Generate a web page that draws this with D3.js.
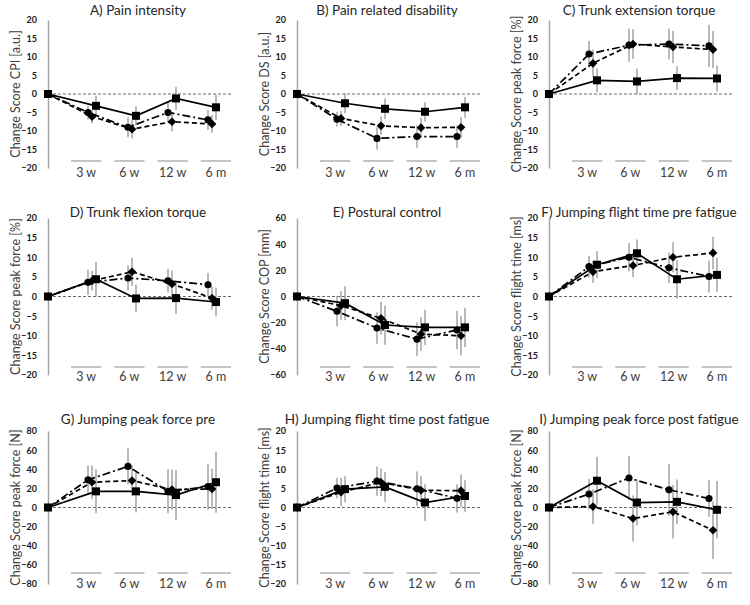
<!DOCTYPE html>
<html>
<head>
<meta charset="utf-8">
<script src="https://cdn.jsdelivr.net/npm/d3@7"></script>
<style>
  body { margin: 0; background: #fff; }
  text { font-family: Lato, "Open Sans", sans-serif; }
</style>
</head>
<body>
<div id="chart-area"></div>
<script>
const SVG_WIDTH = 750;
const SVG_HEIGHT = 605;

// time points: baseline + 4 follow-ups
const timepoints = ["Baseline", "3 w", "6 w", "12 w", "6 m"];
const groupLabels = ["3 w", "6 w", "12 w", "6 m"];

const panelTitles = [
  "A) Pain intensity", "B) Pain related disability", "C)  Trunk extension torque",
  "D) Trunk flexion torque", "E) Postural control", "F) Jumping flight time pre fatigue",
  "G) Jumping peak force pre", "H) Jumping flight time post fatigue", "I) Jumping peak force post fatigue"
];
const yLabels = [
  "Change Score CPI [a.u.]", "Change Score DS [a.u.]", "Change Score peak force  [%]",
  "Change Score peak force  [%]", "Change Score COP [mm]", "Change Score flight time [ms]",
  "Change Score peak force  [N]", "Change Score flight time [ms]", "Change Score peak force [N]"
];
const yMax = [20, 20, 20, 20, 60, 20, 80, 20, 80];
const yStep = [5, 5, 5, 5, 20, 5, 20, 5, 20];

// square marker, solid line
const squareMean = [
  [0, -3.2, -5.9, -1.2, -3.6],
  [0, -2.5, -4.0, -4.8, -3.6],
  [0, 3.7, 3.4, 4.3, 4.2],
  [0, 4.4, -0.5, -0.4, -1.4],
  [0, -5.1, -21.8, -23.6, -23.6],
  [0, 8.1, 11.0, 4.4, 5.5],
  [0, 16.9, 16.9, 13.0, 26.4],
  [0, 4.8, 5.4, 1.3, 3.0],
  [0, 28, 5.2, 5.9, -2.4]
];
const squareErr = [
  [0, 2.7, 2.6, 3.1, 3.4],
  [0, 2.7, 2.8, 2.6, 2.8],
  [0, 3.2, 3.5, 3.2, 3.5],
  [0, 4.4, 3.5, 4.0, 3.7],
  [0, 13, 15, 13.5, 15],
  [0, 3.4, 3.5, 4.9, 4.3],
  [0, 23, 22, 26, 32],
  [0, 3.4, 3.9, 4.8, 4.1],
  [0, 25, 24, 23.5, 30]
];
// diamond marker, dashed line
const diamondMean = [
  [0, -6.1, -9.5, -7.5, -8.1],
  [0, -6.6, -8.6, -9.1, -9.0],
  [0, 8.3, 13.5, 12.7, 12.0],
  [0, 4.0, 6.3, 3.2, -0.4],
  [0, -7.0, -16.7, -28.7, -30.0],
  [0, 6.3, 7.9, 10.0, 11.1],
  [0, 26.4, 28.2, 18.7, 19.4],
  [0, 4.0, 6.6, 4.5, 4.4],
  [0, 1, -11.5, -4.5, -23.8]
];
const diamondErr = [
  [0, 1.8, 2.5, 2.6, 2.4],
  [0, 2.0, 2.5, 2.7, 2.8],
  [0, 3.7, 4.0, 4.4, 5.0],
  [0, 2.5, 3.6, 3.4, 3.0],
  [0, 11, 12.5, 12.8, 15],
  [0, 2.8, 3.0, 3.8, 4.1],
  [0, 17.6, 16, 21, 21],
  [0, 3.7, 3.6, 3.7, 4.2],
  [0, 18, 24, 28, 30]
];
// circle marker, dash-dot line
const circleMean = [
  [0, -5.0, -9.0, -5.0, -7.0],
  [0, -6.8, -12.0, -11.5, -11.5],
  [0, 10.8, 13.2, 13.5, 13.0],
  [0, 3.6, 4.7, 4.0, 3.0],
  [0, -11.3, -24.1, -32.6, -25.6],
  [0, 7.6, 10.0, 7.3, 5.1],
  [0, 28.9, 43, 16.9, 21.8],
  [0, 5.1, 6.9, 4.9, 2.4],
  [0, 14, 30.8, 18.5, 9.4]
];
const circleErr = [
  [0, 1.8, 2.7, 2.7, 2.7],
  [0, 2.0, 3.0, 3.0, 3.0],
  [0, 3.5, 4.5, 4.2, 5.7],
  [0, 3.2, 3.2, 3.0, 3.0],
  [0, 11.5, 12, 12.8, 14.7],
  [0, 2.7, 3.6, 3.9, 4.1],
  [0, 15, 19, 23, 24],
  [0, 2.7, 3.8, 4.5, 3.7],
  [0, 16, 23, 27, 19]
];

const colAxisX = [48, 297, 549];
const rowsLayout = [
  { top: 20, bottom: 168, lineY: 161, labelY: 177, titleY: 15 },
  { top: 218, bottom: 375, lineY: 367, labelY: 381, titleY: 217 },
  { top: 431, bottom: 584, lineY: 573, labelY: 588, titleY: 424 }
];
const PLOT_W = 184;

const svg = d3.select("#chart-area").append("svg").attr("width", SVG_WIDTH).attr("height", SVG_HEIGHT);

const seriesDefs = [
  { mean: circleMean, err: circleErr, off: 0, dash: "8,3,2,3", shape: d3.symbolCircle, size: 40, rot: 0 },
  { mean: diamondMean, err: diamondErr, off: 0.1, dash: "5,3", shape: d3.symbolSquare, size: 38, rot: 45 },
  { mean: squareMean, err: squareErr, off: 0.2, dash: null, shape: d3.symbolSquare, size: 64, rot: 0 }
];

panelTitles.forEach((title, p) => {
  const r = rowsLayout[Math.floor(p / 3)];
  const ax = colAxisX[p % 3];
  const g = svg.append("g");

  const x = d3.scaleLinear().domain([0, 4.6]).range([ax, ax + PLOT_W]);
  const y = d3.scaleLinear().domain([-yMax[p], yMax[p]]).range([r.bottom, r.top]);
  const xPos = (i, off) => i === 0 ? x(0) : x(i + off);

  // y axis
  const yAxis = d3.axisLeft(y).tickValues(d3.range(-yMax[p], yMax[p] + 0.01, yStep[p])).tickSize(0).tickPadding(11);
  const axG = g.append("g").attr("transform", `translate(${ax},0)`).call(yAxis);
  axG.select(".domain").attr("stroke", "#a6a6a6").attr("stroke-width", 1.5);
  axG.selectAll("text").attr("font-size", "9px").attr("font-weight", "bold").attr("fill", "#1a1a1a")
    .style("font-family", "Lato, sans-serif");

  // zero line
  g.append("line").attr("x1", ax).attr("x2", ax + PLOT_W).attr("y1", y(0)).attr("y2", y(0))
    .attr("stroke", "#595959").attr("stroke-width", 0.9).attr("stroke-dasharray", "3,2");

  // time point labels with bars
  const band = d3.scaleBand().domain(groupLabels).range([ax + 23, ax + 183]).paddingInner(0.3);
  groupLabels.forEach(lab => {
    g.append("line").attr("x1", band(lab)).attr("x2", band(lab) + band.bandwidth())
      .attr("y1", r.lineY).attr("y2", r.lineY).attr("stroke", "#a6a6a6").attr("stroke-width", 1.3);
    g.append("text").attr("x", band(lab) + band.bandwidth() / 2).attr("y", r.labelY)
      .attr("text-anchor", "middle").attr("font-size", "12.5px").attr("fill", "#404040").text(lab);
  });

  // title
  g.append("text").attr("x", ax + 90).attr("y", r.titleY).attr("text-anchor", "middle")
    .attr("font-size", "13.5px").attr("fill", "#262626").text(title);

  // y label
  g.append("text").attr("transform", `translate(${ax - 32},${(r.top + r.bottom) / 2}) rotate(-90)`)
    .attr("dy", "0.35em").attr("text-anchor", "middle").attr("font-size", "12.5px").attr("fill", "#404040")
    .text(yLabels[p]);

  // error bars
  seriesDefs.forEach(s => {
    s.mean[p].forEach((m, i) => {
      const e = s.err[p][i];
      if (!e) return;
      g.append("line").attr("x1", xPos(i, s.off)).attr("x2", xPos(i, s.off))
        .attr("y1", y(m - e)).attr("y2", y(m + e)).attr("stroke", "#8c8c8c").attr("stroke-width", 1.2);
    });
  });

  // lines and markers
  seriesDefs.forEach(s => {
    const pts = s.mean[p].map((m, i) => [xPos(i, s.off), y(m)]);
    g.append("path").attr("d", d3.line()(pts)).attr("fill", "none").attr("stroke", "#000")
      .attr("stroke-width", 1.7).attr("stroke-dasharray", s.dash);
    g.selectAll(null).data(pts).enter().append("path")
      .attr("transform", d => `translate(${d[0]},${d[1]}) rotate(${s.rot})`)
      .attr("d", d3.symbol().type(s.shape).size(s.size)).attr("fill", "#000");
  });
});
</script>
</body>
</html>
